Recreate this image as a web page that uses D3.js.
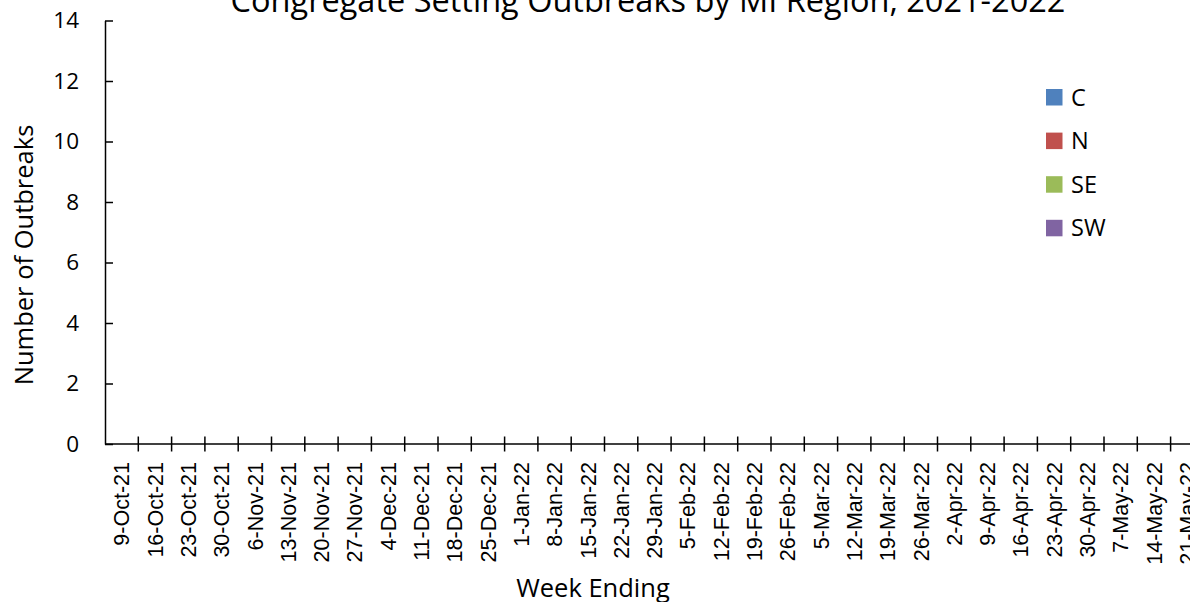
<!DOCTYPE html>
<html>
<head>
<meta charset="utf-8">
<script src="https://cdn.jsdelivr.net/npm/d3@7"></script>
<style>
  body { margin: 0; background: #fff; }
  svg { display: block; }
</style>
</head>
<body>
<div id="chart"></div>
<script>
// weeks shown on the axis (week ending)
var weeks = ["9-Oct-21","16-Oct-21","23-Oct-21","30-Oct-21","6-Nov-21","13-Nov-21","20-Nov-21","27-Nov-21",
  "4-Dec-21","11-Dec-21","18-Dec-21","25-Dec-21","1-Jan-22","8-Jan-22","15-Jan-22","22-Jan-22","29-Jan-22",
  "5-Feb-22","12-Feb-22","19-Feb-22","26-Feb-22","5-Mar-22","12-Mar-22","19-Mar-22","26-Mar-22",
  "2-Apr-22","9-Apr-22","16-Apr-22","23-Apr-22","30-Apr-22","7-May-22","14-May-22","21-May-22"];
var regions = ["C", "N", "SE", "SW"];
var regionColors = ["#4F81BD", "#C0504D", "#9BBB59", "#8064A2"];
// outbreak counts per region, one per week (none reported)
var valuesC  = [0,0,0,0,0,0,0,0,0,0,0,0,0,0,0,0,0,0,0,0,0,0,0,0,0,0,0,0,0,0,0,0,0];
var valuesN  = [0,0,0,0,0,0,0,0,0,0,0,0,0,0,0,0,0,0,0,0,0,0,0,0,0,0,0,0,0,0,0,0,0];
var valuesSE = [0,0,0,0,0,0,0,0,0,0,0,0,0,0,0,0,0,0,0,0,0,0,0,0,0,0,0,0,0,0,0,0,0];
var valuesSW = [0,0,0,0,0,0,0,0,0,0,0,0,0,0,0,0,0,0,0,0,0,0,0,0,0,0,0,0,0,0,0,0,0];
var yTicks = [0, 2, 4, 6, 8, 10, 12, 14];

var width = 1190, height = 602;
var margin = {top: 20.5, right: 0, bottom: 158, left: 105};
var plotW = 33.3 * weeks.length;
var plotH = height - margin.top - margin.bottom;

var rows = weeks.map(function(w, i) {
  return {week: w, C: valuesC[i], N: valuesN[i], SE: valuesSE[i], SW: valuesSW[i]};
});

var x = d3.scaleBand().domain(weeks).range([0, plotW]).paddingInner(0.5).paddingOuter(0.25);
var y = d3.scaleLinear().domain([0, 14]).range([plotH, 0]);
var color = d3.scaleOrdinal().domain(regions).range(regionColors);

var svg = d3.select("#chart").append("svg")
  .attr("width", width)
  .attr("height", height);

svg.append("text")
  .attr("x", 648)
  .attr("y", 12)
  .attr("text-anchor", "middle")
  .style("font-family", "'Open Sans', sans-serif")
  .style("font-size", "32.5px")
  .text("Congregate Setting Outbreaks by MI Region, 2021-2022");

var g = svg.append("g").attr("transform", "translate(" + margin.left + "," + margin.top + ")");

// stacked bars
var stack = d3.stack().keys(regions)(rows);
g.selectAll(".layer").data(stack).enter().append("g")
  .attr("class", "layer")
  .attr("fill", function(d) { return color(d.key); })
  .selectAll("rect").data(function(d) { return d; }).enter().append("rect")
  .attr("x", function(d) { return x(d.data.week); })
  .attr("width", x.bandwidth())
  .attr("y", function(d) { return y(d[1]); })
  .attr("height", function(d) { return y(d[0]) - y(d[1]); });

// y axis
var yAxis = g.append("g")
  .call(d3.axisLeft(y).tickValues(yTicks).tickSizeInner(-8).tickSizeOuter(0).tickPadding(26));
yAxis.select(".domain").attr("stroke", "#000").attr("stroke-width", 1.5);
yAxis.selectAll(".tick line").attr("stroke", "#000").attr("stroke-width", 1.5);
yAxis.selectAll("text")
  .style("font-family", "'Open Sans', sans-serif")
  .style("font-size", "22.5px")
  .attr("fill", "#000");

// x axis: line plus tick marks between categories
var xg = g.append("g").attr("transform", "translate(0," + plotH + ")");
xg.append("line")
  .attr("x1", 0).attr("x2", plotW)
  .attr("stroke", "#000").attr("stroke-width", 1.5);
var step = x.step();
xg.selectAll(".xtick").data(weeks).enter().append("line")
  .attr("class", "xtick")
  .attr("x1", function(d) { return x(d) - x.paddingOuter() * step + step; })
  .attr("x2", function(d) { return x(d) - x.paddingOuter() * step + step; })
  .attr("y1", -7.5).attr("y2", 7.5)
  .attr("stroke", "#000").attr("stroke-width", 1.5);
xg.selectAll(".xlabel").data(weeks).enter().append("text")
  .attr("class", "xlabel")
  .attr("transform", function(d) {
    return "translate(" + (x(d) + x.bandwidth() / 2 + 7.7) + ",18) rotate(-90)";
  })
  .attr("text-anchor", "end")
  .style("font-family", "'Liberation Sans', Arial, sans-serif")
  .style("font-size", "21.5px")
  .text(function(d) { return d; });

// axis titles
svg.append("text")
  .attr("x", 593)
  .attr("y", 597)
  .attr("text-anchor", "middle")
  .style("font-family", "'Open Sans', sans-serif")
  .style("font-size", "25.5px")
  .text("Week Ending");

svg.append("text")
  .attr("transform", "translate(33,255) rotate(-90)")
  .attr("text-anchor", "middle")
  .style("font-family", "'Open Sans', sans-serif")
  .style("font-size", "25.5px")
  .text("Number of Outbreaks");

// legend
var legend = svg.append("g").attr("transform", "translate(1046,89)");
var item = legend.selectAll(".item").data(regions).enter().append("g")
  .attr("class", "item")
  .attr("transform", function(d, i) { return "translate(0," + (i * 43.6) + ")"; });
item.append("rect")
  .attr("width", 16.5).attr("height", 16.5)
  .attr("fill", function(d) { return color(d); });
item.append("text")
  .attr("x", 25).attr("y", 16.5)
  .style("font-family", "'Open Sans', sans-serif")
  .style("font-size", "23.5px")
  .text(function(d) { return d; });
</script>
</body>
</html>
